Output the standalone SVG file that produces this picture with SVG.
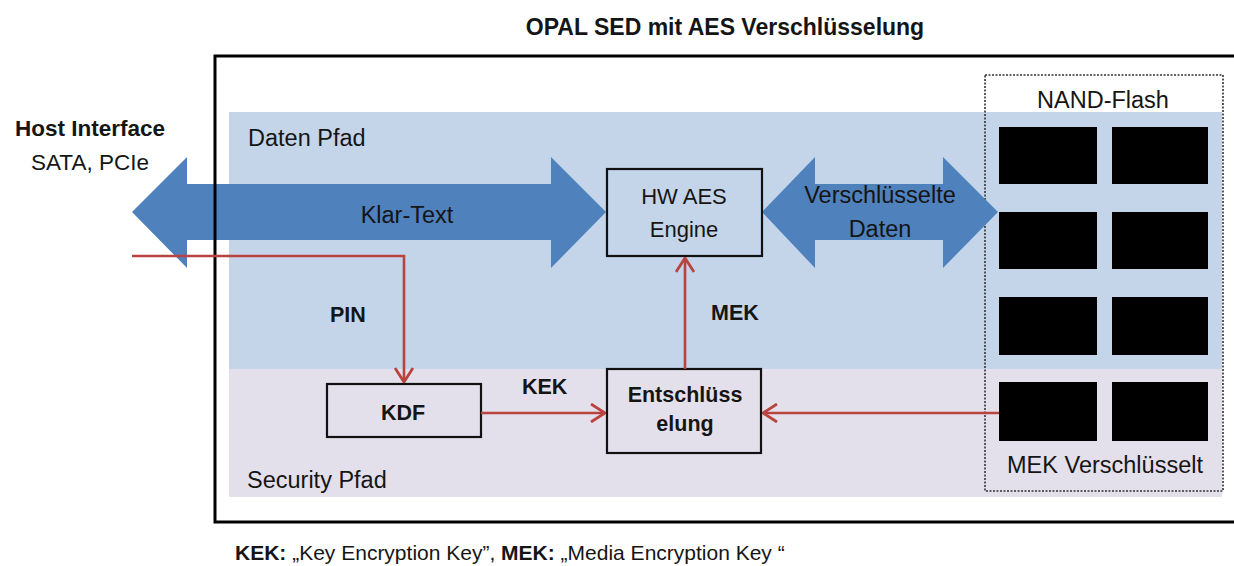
<svg xmlns="http://www.w3.org/2000/svg" width="1234" height="566" viewBox="0 0 1234 566">
  <style>
    text { font-family: "Liberation Sans", Arial, sans-serif; fill: #151515; }
    .lbl { font-size: 23.5px; }
    .b { font-weight: bold; }
    .box { fill: none; stroke: #111; stroke-width: 2.2; }
    .red { fill: none; stroke: #b8433f; stroke-width: 2.6; }
    .chip { fill: #000; }
    .big { fill: #4f81bd; }
  </style>
  <defs>
    <marker id="ah" viewBox="0 0 16 20" refX="15" refY="10" markerWidth="16" markerHeight="20" markerUnits="userSpaceOnUse" orient="auto">
      <path d="M1,1 L15,10 L1,19" fill="none" stroke="#b8433f" stroke-width="2.8"/>
    </marker>
  </defs>

  <text x="725" y="35" text-anchor="middle" class="b" font-size="23">OPAL SED mit AES Verschlüsselung</text>

  <g id="bands">
    <rect x="229" y="112" width="993" height="257" fill="#c4d5ea"/>
    <rect x="229" y="369" width="993" height="128" fill="#e4e0eb"/>
    <text x="248" y="146" class="lbl">Daten Pfad</text>
    <text x="247" y="488" class="lbl">Security Pfad</text>
  </g>

  <g id="host">
    <text x="90" y="136" text-anchor="middle" class="b" font-size="22.5">Host Interface</text>
    <text x="90" y="170" text-anchor="middle" font-size="22.5">SATA, PCIe</text>
  </g>

  <g id="nand">
    <rect x="985" y="75" width="238" height="416" fill="none" stroke="#333" stroke-width="1.6" stroke-dasharray="2,1.5"/>
    <text x="1103" y="108" text-anchor="middle" class="lbl">NAND-Flash</text>
    <rect class="chip" x="999" y="127" width="98" height="57"/>
    <rect class="chip" x="1112" y="127" width="96" height="57"/>
    <rect class="chip" x="999" y="212" width="98" height="57"/>
    <rect class="chip" x="1112" y="212" width="96" height="57"/>
    <rect class="chip" x="999" y="297" width="98" height="58"/>
    <rect class="chip" x="1112" y="297" width="96" height="58"/>
    <rect class="chip" x="999" y="382" width="98" height="59"/>
    <rect class="chip" x="1112" y="382" width="96" height="59"/>
    <text x="1105" y="473" text-anchor="middle" class="lbl">MEK Verschlüsselt</text>
  </g>

  <g id="klartext">
    <polygon class="big" points="132,212 187,157 187,184 551,184 551,157 606,212 551,268 551,240 187,240 187,268"/>
    <text x="407" y="223" text-anchor="middle" class="lbl">Klar-Text</text>
  </g>

  <g id="verschluesselt">
    <polygon class="big" points="762,212 815,157 815,184 943,184 943,157 998,212 943,268 943,240 815,240 815,268"/>
    <text x="880" y="203" text-anchor="middle" class="lbl">Verschlüsselte</text>
    <text x="880" y="237" text-anchor="middle" class="lbl">Daten</text>
  </g>

  <g id="frame">
    <rect x="215" y="56" width="1030" height="466" fill="none" stroke="#000" stroke-width="3"/>
  </g>

  <g id="aes">
    <rect class="box" x="607" y="169" width="155" height="87" fill="#c4d5ea"/>
    <text x="684" y="204" text-anchor="middle" font-size="22">HW AES</text>
    <text x="684" y="237" text-anchor="middle" font-size="22">Engine</text>
  </g>

  <g id="kdf">
    <rect class="box" x="327" y="384" width="154" height="53"/>
    <text x="403" y="420" text-anchor="middle" class="b" font-size="21.5">KDF</text>
  </g>

  <g id="entschl">
    <rect class="box" x="607" y="369" width="154" height="84"/>
    <text x="685" y="402" text-anchor="middle" class="b" font-size="21.5">Entschlüss</text>
    <text x="685" y="431" text-anchor="middle" class="b" font-size="21.5">elung</text>
  </g>

  <g id="connectors">
    <polyline class="red" points="132,256 404,256 404,382" marker-end="url(#ah)"/>
    <line class="red" x1="481" y1="413" x2="605" y2="413" marker-end="url(#ah)"/>
    <line class="red" x1="685" y1="369" x2="685" y2="258" marker-end="url(#ah)"/>
    <line class="red" x1="999" y1="413" x2="763" y2="413" marker-end="url(#ah)"/>
    <text x="330" y="322" class="b" font-size="21.5">PIN</text>
    <text x="522" y="394" class="b" font-size="21.5">KEK</text>
    <text x="711" y="320" class="b" font-size="21.5">MEK</text>
  </g>

  <text x="235" y="560" font-size="21"><tspan class="b">KEK:</tspan> „Key Encryption Key”, <tspan class="b">MEK:</tspan> „Media Encryption Key “</text>
</svg>
